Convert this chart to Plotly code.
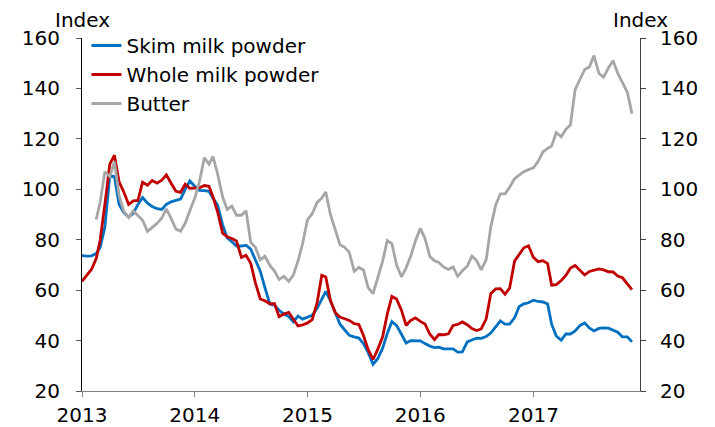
import plotly.graph_objects as go

# Semi-monthly observation dates, Jan 2013 - Nov 2017
dates = [f"{2013 + (k // 2) // 12}-{(k // 2) % 12 + 1:02d}-{1 if k % 2 == 0 else 16:02d}" for k in range(118)]

skim_milk_powder = [
    73.7, 73.5, 73.6, 74.5, 77, 85, 105.5, 105, 94, 90.8,
    89, 90.5, 94, 96.7, 94.5, 93.2, 92.3, 92, 94, 95,
    95.6, 96.1, 100, 103.3, 101.2, 99.6, 99.5, 99.2, 96.5, 93.6,
    86, 80.7, 79.2, 77.5, 77.5, 77.8, 76.3, 72, 67.5, 61,
    54.5, 54, 52, 50.5, 49.5, 47.4, 49.7, 48.5, 49.2, 50,
    52.8, 56.5, 59.5, 55.8, 51, 46.5, 44.3, 42.1, 41.5, 41,
    38.8, 35.3, 30.6, 32.8, 37, 42.8, 47.5, 46, 42.5, 39,
    40, 40, 39.9, 38.8, 37.8, 37.2, 37.4, 36.7, 36.7, 36.7,
    35.4, 35.5, 39.5, 40.1, 41, 40.9, 41.6, 43, 45.7, 47.8,
    46.5, 46.5, 49, 53.5, 54.6, 55, 56, 55.5, 55.3, 54.5,
    46.5, 41.8, 40.1, 42.6, 42.6, 43.8, 46, 47, 45, 43.8,
    44.8, 45, 44.9, 44.2, 43.3, 41.5, 41.5, 39.5,
]

whole_milk_powder = [
    63.5, 65.9, 68.3, 72.5, 80, 94, 110, 113.5, 103, 99,
    94, 95.4, 95.6, 102.8, 101.6, 103.5, 102.4, 103.6, 105.7, 102.5,
    99.2, 98.8, 102, 100.4, 100.5, 100.6, 101.5, 101.2, 97, 91,
    82.6, 81.2, 80.5, 79.5, 73, 73.8, 70.7, 63, 56.5, 55.8,
    54.6, 54.6, 49.5, 50.5, 51.2, 48.5, 45.8, 46.2, 47, 48.3,
    55, 65.9, 65.2, 56, 51, 49.3, 48.7, 48, 46.7, 46.4,
    42, 36.5, 32.5, 36.5, 41.5, 50.5, 57.5, 56.5, 52, 46,
    48, 49, 47.6, 46.6, 42.5, 40.4, 42.4, 42.3, 42.7, 46,
    46.4, 47.4, 46.3, 44.8, 44, 44.6, 48.5, 58.6, 60.5, 60.6,
    58.4, 60.8, 71.5, 74.3, 76.8, 77.6, 73, 71.3, 71.7, 70.5,
    62, 62.2, 63.8, 65.8, 68.8, 69.8, 68, 66, 67.4, 67.8,
    68.4, 68, 67.3, 67.2, 65.6, 64.9, 62.5, 60.2,
]

butter = [
    None, None, None, 88, 95, 107, 105, 111, 97.5, 91.3,
    88.8, 91.5, 89.5, 87.7, 83.3, 84.8, 86.5, 88.5, 92.2, 88.6,
    84.2, 83.4, 86.5, 91.5, 96.5, 103, 112.5, 110, 113, 106,
    97, 92, 93.3, 89.7, 89.7, 91.5, 79, 77, 72, 73.5,
    69.8, 67.6, 64.2, 65.5, 63.5, 66, 71.5, 78.5, 88, 90.3,
    94.8, 96.5, 98.9, 90, 83.5, 78, 77, 75, 67.5, 69,
    68, 61, 58.6, 65, 71.5, 79.7, 78.5, 70, 65.3, 68.8,
    73.5, 79.5, 84.5, 80.5, 73.3, 71.6, 71, 69.2, 68.2, 69.2,
    65.5, 67.7, 69.5, 73.5, 71.8, 68, 72, 85, 93.8, 98.2,
    98.2, 100.8, 104.2, 105.6, 107, 107.8, 108.5, 111, 114.8, 116.2,
    117.2, 122.5, 120.8, 123.8, 125.6, 139.5, 143.3, 147.5, 148.5, 153,
    146, 144.4, 148.2, 151, 146, 142.5, 138.5, 130,
]

series_names = ["Skim milk powder", "Whole milk powder", "Butter"]
series_colors = ["#0070C0", "#C00000", "#A6A6A6"]
y_ticks = [20, 40, 60, 80, 100, 120, 140, 160]

FONT = "DejaVu Sans"
FS = 20

fig = go.Figure()
for name, vals, col, ax in zip(series_names, [skim_milk_powder, whole_milk_powder, butter],
                               series_colors, ["y", "y", "y2"]):
    fig.add_trace(go.Scatter(x=dates, y=vals, name=name, mode="lines",
                             line=dict(color=col, width=2.8), yaxis=ax))

yax_common = dict(range=[20, 160], tickvals=y_ticks, showgrid=False, zeroline=False,
                  showline=True, ticks="outside", ticklen=5, tickwidth=1,
                  automargin=False,
                  tickfont=dict(family=FONT, size=FS, color="#000000"))

# page body adds an 8px offset, so the figure is 8px smaller than the window
fig.update_layout(
    width=707, height=419,
    margin=dict(l=74, r=75, t=30, b=36, autoexpand=False),
    paper_bgcolor="white", plot_bgcolor="white",
    font=dict(family=FONT, size=FS, color="#000000"),
    xaxis=dict(type="date", range=["2013-01-01", "2017-12-12"], tick0="2013-01-01",
               dtick="M12", tickformat="%Y", showgrid=False, zeroline=False,
               showline=True, linecolor="#808080", linewidth=1.2,
               ticks="outside", ticklen=5, tickcolor="#808080",
               ticklabelstandoff=1, automargin=False,
               tickfont=dict(family=FONT, size=FS, color="#000000")),
    yaxis=dict(**yax_common, linecolor="#000000", linewidth=1.2, tickcolor="#555555",
               ticklabelstandoff=12),
    yaxis2=dict(**yax_common, overlaying="y", side="right", linecolor="#404040",
                linewidth=1.2, tickcolor="#404040", ticklabelstandoff=10),
    legend=dict(x=0.008, y=1.034, xanchor="left", yanchor="top",
                bgcolor="rgba(0,0,0,0)", font=dict(family=FONT, size=FS),
                itemwidth=30, tracegroupgap=0),
    showlegend=True,
    annotations=[
        dict(text="Index", xref="paper", yref="paper", x=0, y=1.051,
             xanchor="center", yanchor="middle", showarrow=False,
             font=dict(family=FONT, size=FS)),
        dict(text="Index", xref="paper", yref="paper", x=1, y=1.051,
             xanchor="center", yanchor="middle", showarrow=False,
             font=dict(family=FONT, size=FS)),
    ],
)

fig.write_html("out.html")
